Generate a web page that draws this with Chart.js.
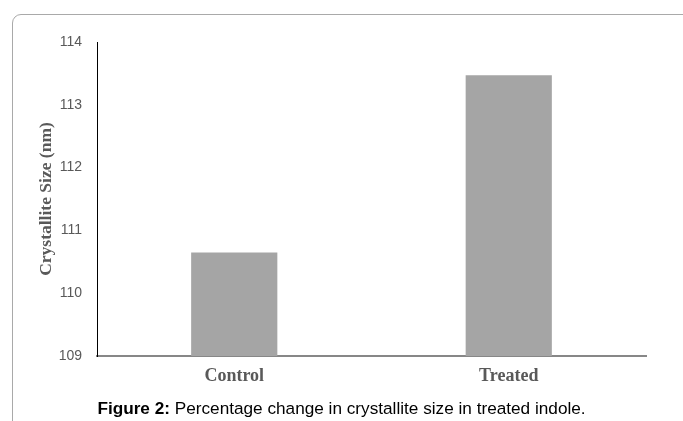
<!DOCTYPE html>
<html>
<head>
<meta charset="utf-8">
<script src="https://cdn.jsdelivr.net/npm/chart.js@4"></script>
<style>
  html, body { margin: 0; padding: 0; background: #fff; }
  body { width: 683px; height: 421px; position: relative; overflow: hidden; }
  #frame { position: absolute; left: 12px; top: 14px; width: 700px; height: 460px;
           border: 1.5px solid #a9a9a9; border-radius: 9px; box-sizing: border-box; }
  #wrap { position: absolute; left: 0; top: 0; width: 683px; height: 421px; }
  #caption { position: absolute; left: 0; width: 683px; top: 398px; text-align: center;
             font-family: "Liberation Sans", Arial, sans-serif; font-size: 17.2px; color: #000; }
</style>
</head>
<body>
<div id="frame"></div>
<div id="wrap"><canvas id="c" width="683" height="421"></canvas></div>
<div id="caption"><b>Figure 2:</b> Percentage change in crystallite size in treated indole.</div>
<script>
const categories = ["Control", "Treated"];
const crystalliteSize = [110.65, 113.47];
const yTicks = [109, 110, 111, 112, 113, 114];
const yTitle = "Crystallite Size (nm)";

new Chart(document.getElementById('c'), {
  type: 'bar',
  data: {
    labels: categories,
    datasets: [{
      data: crystalliteSize,
      backgroundColor: '#a5a5a5',
      borderWidth: 0,
      categoryPercentage: 1,
      barPercentage: 0.314
    }]
  },
  options: {
    responsive: false,
    animation: false,
    devicePixelRatio: 1,
    layout: { padding: { top: 42, right: 37, left: 0, bottom: 0 } },
    plugins: { legend: { display: false }, tooltip: { enabled: false } },
    scales: {
      x: {
        grid: { display: false, drawTicks: false },
        border: { display: true, color: '#878787', width: 2 },
        ticks: {
          padding: 10,
          color: '#595959',
          font: { family: '"Liberation Serif", "Times New Roman", serif', size: 18, weight: 'bold' }
        },
        afterFit: (s) => { s.height = 65; }
      },
      y: {
        min: yTicks[0],
        max: yTicks[yTicks.length - 1],
        afterBuildTicks: (s) => { s.ticks = yTicks.map(v => ({ value: v })); },
        grid: { display: false, drawTicks: false },
        border: { display: true, color: '#000000', width: 1 },
        ticks: {
          padding: 15,
          color: '#595959',
          font: { family: '"Liberation Sans", Arial, sans-serif', size: 14 }
        },
        title: {
          display: true,
          text: yTitle,
          color: '#595959',
          padding: { top: 36, bottom: 0 },
          font: { family: '"Liberation Serif", "Times New Roman", serif', size: 17.5, weight: 'bold' }
        },
        afterFit: (s) => { s.width = 97; }
      }
    }
  }
});
</script>
</body>
</html>
